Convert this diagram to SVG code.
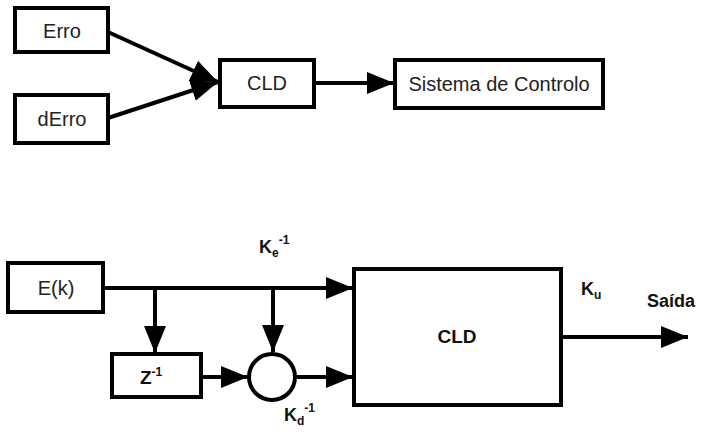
<svg xmlns="http://www.w3.org/2000/svg" width="701" height="433" viewBox="0 0 701 433">
<style>
.box{fill:#fff;stroke:#000;stroke-width:4}
.ln{fill:none;stroke:#000;stroke-width:4}
.t{font-family:"Liberation Sans",Arial,sans-serif;font-size:20px;fill:#222;text-anchor:middle}
.b{font-family:"Liberation Sans",Arial,sans-serif;font-weight:bold;fill:#111}
</style>
<defs>
<marker id="ar" markerUnits="userSpaceOnUse" markerWidth="28" markerHeight="22" refX="27" refY="11" orient="auto">
<path d="M0,0 L27,11 L0,22 Z" fill="#000"/>
</marker>
</defs>
<rect width="701" height="433" fill="#fff"/>
<g id="connectors">
<line class="ln" x1="108" y1="32" x2="218" y2="82" marker-end="url(#ar)"/>
<line class="ln" x1="108" y1="118" x2="218" y2="82" marker-end="url(#ar)"/>
<line class="ln" x1="314" y1="83" x2="394" y2="83" marker-end="url(#ar)"/>
<line class="ln" x1="103" y1="288" x2="353" y2="288" marker-end="url(#ar)"/>
<line class="ln" x1="155" y1="288" x2="155" y2="353" marker-end="url(#ar)"/>
<line class="ln" x1="273" y1="288" x2="273" y2="352" marker-end="url(#ar)"/>
<line class="ln" x1="201" y1="377" x2="248" y2="377" marker-end="url(#ar)"/>
<line class="ln" x1="296" y1="377" x2="353" y2="377" marker-end="url(#ar)"/>
<line class="ln" x1="561" y1="337" x2="688" y2="337" marker-end="url(#ar)"/>
</g>
<g id="erro"><rect class="box" x="15" y="8" width="93" height="44"/><text class="t" x="62" y="38">Erro</text></g>
<g id="derro"><rect class="box" x="15" y="95" width="93" height="48"/><text class="t" x="62" y="126">dErro</text></g>
<g id="cld1"><rect class="box" x="220" y="60" width="94" height="47"/><text class="t" x="267" y="90">CLD</text></g>
<g id="sistema"><rect class="box" x="395" y="60" width="208" height="48"/><text class="t" x="499" y="91">Sistema de Controlo</text></g>
<g id="ek"><rect class="box" x="8" y="263" width="95" height="49"/><text class="t" x="56" y="295">E(k)</text></g>
<g id="cld2"><rect class="box" x="354" y="269" width="207" height="136"/><text class="b" x="457" y="343" font-size="19" text-anchor="middle">CLD</text></g>
<g id="z"><rect class="box" x="112" y="354" width="89" height="43"/><text class="b" x="140" y="384" font-size="19">Z<tspan font-size="12" dy="-8">-1</tspan></text></g>
<g id="sum"><circle class="box" cx="272" cy="377" r="23"/></g>
<g id="labels">
<text class="b" x="259" y="253" font-size="18">K<tspan font-size="12" dy="4">e</tspan><tspan font-size="12" dy="-13">-1</tspan></text>
<text class="b" x="284" y="421" font-size="18">K<tspan font-size="12" dy="4">d</tspan><tspan font-size="12" dy="-13">-1</tspan></text>
<text class="b" x="581" y="295" font-size="18">K<tspan font-size="12" dy="4">u</tspan></text>
<text class="b" x="647" y="307" font-size="18">Saída</text>
</g>
</svg>
